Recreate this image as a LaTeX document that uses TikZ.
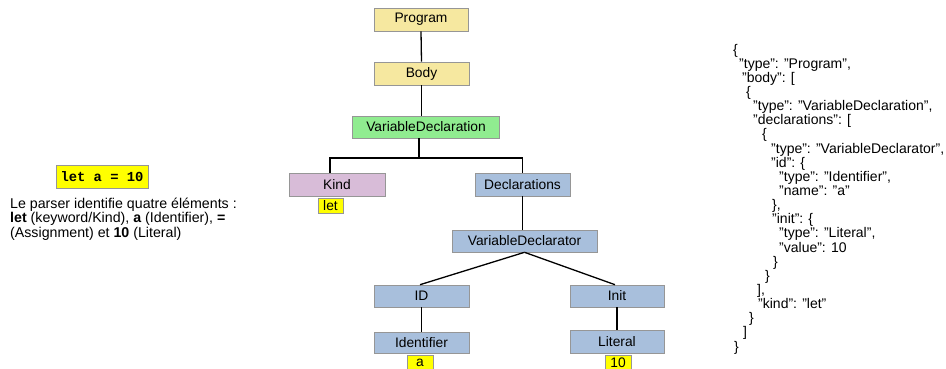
\documentclass[tikz,border=0pt]{standalone}
\usepackage{fontspec}
\setmainfont{Liberation Sans}
\newfontfamily\codefont{Liberation Mono}
\definecolor{progyellow}{RGB}{246,232,160}
\definecolor{declgreen}{RGB}{144,236,144}
\definecolor{kindpink}{RGB}{216,188,216}
\definecolor{nodeblue}{RGB}{168,191,220}
\definecolor{hiyellow}{RGB}{255,255,0}
\definecolor{boxedge}{RGB}{150,150,150}
\tikzset{
  tbox/.style={draw=boxedge, line width=0.6pt, inner sep=0pt, minimum height=23pt,
    font=\fontsize{13.8}{16}\selectfont},
  ybox/.style={tbox, fill=progyellow},
  gbox/.style={tbox, fill=declgreen},
  pbox/.style={tbox, fill=kindpink},
  bbox/.style={tbox, fill=nodeblue},
  valbox/.style={draw=boxedge, line width=0.5pt, fill=hiyellow, inner sep=0pt,
    minimum height=15pt, font=\fontsize{13.8}{16}\selectfont},
  link/.style={draw=black, line width=1.3pt}
}
\begin{document}
\begin{tikzpicture}[x=1pt,y=-1pt]
\useasboundingbox (0,0) rectangle (946,369);
% tree nodes
\node[ybox, minimum width=94pt] (prog) at (421,19.5) {Program};
\node[ybox, minimum width=95pt] (body) at (421.5,73.5) {Body};
\node[gbox, minimum width=147pt, minimum height=22pt] (vdecl) at (426,127) {VariableDeclaration};
\node[pbox, minimum width=96pt] (kind) at (337,184.5) {Kind};
\node[valbox, minimum width=25pt] (letv) at (330.5,205.5) {let};
\node[bbox, minimum width=95pt] (decls) at (522.5,184.5) {Declarations};
\node[bbox, minimum width=145pt, minimum height=22pt] (vdtor) at (524.5,241) {VariableDeclarator};
\node[bbox, minimum width=95pt, minimum height=22pt] (idn) at (421.5,296) {ID};
\node[bbox, minimum width=95pt, minimum height=21pt] (ident) at (421.5,342.5) {Identifier};
\node[valbox, minimum width=26pt] (av) at (420,362.5) {a};
\node[bbox, minimum width=94pt, minimum height=22pt] (init) at (617,296) {Init};
\node[bbox, minimum width=94pt] (lit) at (617,341.5) {Literal};
\node[valbox, minimum width=26pt] (tenv) at (618,362.5) {10};
% connectors
\coordinate (bar) at (419,158);
\coordinate (kindtop) at (330,173);
\draw[link] (prog.south) -- (body.north);
\draw[link] (body.south) -- (body.south |- vdecl.north);
\draw[link] (bar |- vdecl.south) -- (bar);
\draw[link] (kindtop) |- (bar) -| (decls.north);
\draw[link] (decls.south) -- (decls.south |- vdtor.north);
\draw[link] (vdtor.south) -- ([xshift=-1.5pt]idn.north);
\draw[link] (vdtor.south) -- ([xshift=-2pt]init.north);
\draw[link] (idn.south) -- (ident.north);
\draw[link] (init.south) -- (lit.north);
% left side
\node[draw=boxedge, line width=0.5pt, fill=hiyellow, inner sep=0pt, minimum width=92pt,
  minimum height=23pt, font=\codefont\bfseries\fontsize{13.8}{16}\selectfont] (code) at (102,176.5) {let a = 10};
\node[anchor=base west, align=left, inner sep=0pt, font=\fontsize{14.2}{13.2}\selectfont] (expl) at (10,237)
  {Le parser identifie quatre éléments :\\
   \textbf{let} (keyword/Kind), \textbf{a} (Identifier), \textbf{=}\\
   (Assignment) et \textbf{10} (Literal)};
% JSON
\node[anchor=base west, align=left, inner sep=0pt, font=\fontsize{14}{14.14}\selectfont] (json) at (733,351)
  {\{\\
   \hspace*{6pt}"type": "Program",\\
   \hspace*{9pt}"body": [\\
   \hspace*{13pt}\{\\
   \hspace*{20pt}"type": "VariableDeclaration",\\
   \hspace*{20pt}"declarations": [\\
   \hspace*{29pt}\{\\
   \hspace*{38pt}"type": "VariableDeclarator",\\
   \hspace*{38pt}"id": \{\\
   \hspace*{46pt}"type": "Identifier",\\
   \hspace*{46pt}"name": "a"\\
   \hspace*{39pt}\},\\
   \hspace*{39pt}"init": \{\\
   \hspace*{46pt}"type": "Literal",\\
   \hspace*{46pt}"value": 10\\
   \hspace*{40pt}\}\\
   \hspace*{32pt}\}\\
   \hspace*{24pt}],\\
   \hspace*{25pt}"kind": "let"\\
   \hspace*{16pt}\}\\
   \hspace*{10pt}]\\
   \hspace*{1pt}\}};
\end{tikzpicture}
\end{document}
